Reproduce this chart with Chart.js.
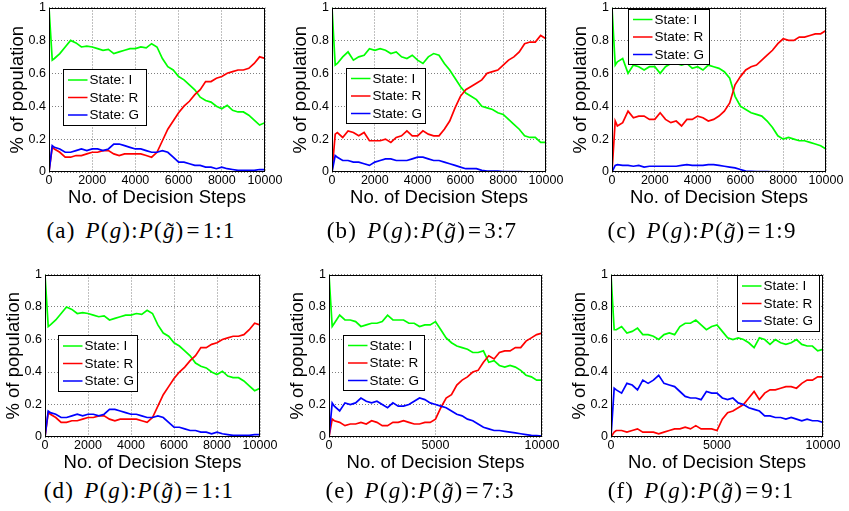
<!DOCTYPE html>
<html><head><meta charset="utf-8">
<script src="https://cdn.jsdelivr.net/npm/chart.js@4/dist/chart.umd.min.js"></script>
<style>
html,body{margin:0;padding:0;background:#fff;}
body{width:849px;height:511px;position:relative;overflow:hidden;}
canvas{position:absolute;}
.cap{position:absolute;width:300px;text-align:center;font-family:"Liberation Serif","Times New Roman",serif;font-size:23px;line-height:26px;color:#000;white-space:nowrap;letter-spacing:1.2px;}
.cap i{font-style:italic;}
.gap{display:inline-block;width:10px;}
.gt{position:relative;display:inline-block;}
.tl{position:absolute;left:0.13em;top:0.04em;font-style:normal;}
.eq{margin:0 2px;}
</style></head><body>
<script>
// ---- data ----
const steps = [0,150,250,500,750,1000,1250,1500,1750,2000,2250,2500,2750,3000,3250,3500,3750,4000,4250,4500,4750,5000,5250,5500,5750,6000,6250,6500,6750,7000,7250,7500,7750,8000,8250,8500,8750,9000,9250,9500,9750,10000];
const xTicksA = [0,2000,4000,6000,8000,10000];
const xTicksB = [0,5000,10000];
const yTicks = [0,0.2,0.4,0.6,0.8,1];
const yTickLabels = ['0','0.2','0.4','0.6','0.8','1'];
const seriesNames = ['State: I','State: R','State: G'];
const captionLetters = ['a','b','c','d','e','f'];
const captionRatios = ['1:1','3:7','1:9','1:1','7:3','9:1'];
const xTitle = 'No. of Decision Steps';
const yTitle = '% of population';

const aI = [1.0,0.68,0.69,0.72,0.76,0.80,0.785,0.76,0.765,0.76,0.75,0.74,0.745,0.72,0.73,0.74,0.75,0.75,0.76,0.755,0.78,0.76,0.69,0.64,0.62,0.58,0.56,0.53,0.50,0.455,0.435,0.425,0.40,0.385,0.405,0.375,0.365,0.365,0.345,0.315,0.285,0.30];
const aR = [0,0.15,0.14,0.12,0.09,0.09,0.10,0.10,0.11,0.12,0.12,0.13,0.13,0.11,0.10,0.11,0.11,0.11,0.11,0.10,0.09,0.12,0.19,0.26,0.31,0.36,0.40,0.43,0.47,0.50,0.55,0.55,0.57,0.58,0.60,0.61,0.62,0.62,0.63,0.66,0.70,0.69];
const aG = [0,0.16,0.15,0.14,0.12,0.12,0.13,0.14,0.13,0.14,0.14,0.13,0.14,0.17,0.17,0.16,0.15,0.14,0.14,0.13,0.12,0.12,0.13,0.12,0.09,0.06,0.06,0.05,0.04,0.04,0.03,0.03,0.02,0.03,0.02,0.015,0.01,0.01,0.01,0.01,0.015,0.015];

const bI = [1.0,0.65,0.66,0.70,0.73,0.68,0.70,0.71,0.75,0.74,0.75,0.74,0.72,0.73,0.70,0.69,0.71,0.68,0.66,0.70,0.72,0.71,0.66,0.62,0.57,0.52,0.48,0.46,0.44,0.40,0.39,0.38,0.36,0.35,0.32,0.29,0.26,0.22,0.21,0.21,0.18,0.18];
const bR = [0,0.23,0.24,0.21,0.25,0.24,0.22,0.24,0.19,0.19,0.19,0.20,0.18,0.21,0.22,0.25,0.22,0.22,0.25,0.23,0.22,0.22,0.26,0.31,0.39,0.46,0.50,0.52,0.54,0.56,0.60,0.61,0.62,0.65,0.68,0.70,0.73,0.78,0.79,0.79,0.83,0.81];
const bG = [0,0.10,0.09,0.07,0.07,0.06,0.06,0.05,0.04,0.06,0.07,0.08,0.08,0.07,0.07,0.07,0.08,0.09,0.09,0.08,0.07,0.07,0.06,0.05,0.04,0.03,0.02,0.02,0.02,0.01,0.005,0.005,0.005,0.003,0.002,0.002,0.002,0.001,0.001,0.001,0.001,0.001];

const cI = [1.0,0.65,0.67,0.69,0.60,0.65,0.64,0.62,0.64,0.64,0.60,0.64,0.66,0.66,0.65,0.66,0.63,0.64,0.62,0.65,0.64,0.63,0.61,0.57,0.46,0.40,0.38,0.36,0.35,0.34,0.31,0.27,0.22,0.20,0.21,0.20,0.19,0.19,0.18,0.17,0.16,0.14];
const cR = [0,0.31,0.28,0.30,0.37,0.33,0.34,0.34,0.32,0.32,0.36,0.32,0.30,0.31,0.28,0.32,0.32,0.34,0.33,0.31,0.32,0.34,0.37,0.42,0.53,0.58,0.62,0.64,0.65,0.68,0.71,0.74,0.78,0.81,0.80,0.80,0.82,0.82,0.83,0.84,0.84,0.86];
const cG = [0,0.04,0.045,0.04,0.04,0.035,0.04,0.03,0.035,0.035,0.035,0.035,0.035,0.035,0.04,0.045,0.04,0.04,0.04,0.045,0.045,0.04,0.035,0.03,0.025,0.015,0.005,0.004,0.003,0.002,0.002,0.001,0.001,0.001,0.001,0.001,0.001,0.001,0.001,0.001,0.001,0.001];

const dI = aI.slice();
const dR = aR.slice();
const dG = aG.slice();

const eI = [1.0,0.68,0.70,0.75,0.72,0.72,0.71,0.68,0.69,0.70,0.70,0.71,0.75,0.72,0.72,0.72,0.70,0.70,0.68,0.69,0.69,0.71,0.66,0.61,0.58,0.56,0.55,0.54,0.52,0.52,0.53,0.46,0.47,0.44,0.43,0.44,0.43,0.41,0.38,0.37,0.35,0.35];
const eR = [0,0.11,0.10,0.09,0.07,0.08,0.08,0.09,0.08,0.10,0.09,0.07,0.07,0.09,0.09,0.10,0.09,0.08,0.08,0.09,0.09,0.11,0.18,0.24,0.26,0.32,0.35,0.37,0.40,0.41,0.46,0.50,0.48,0.52,0.53,0.53,0.55,0.55,0.59,0.61,0.63,0.64];
const eG = [0,0.21,0.19,0.16,0.21,0.20,0.21,0.24,0.22,0.21,0.22,0.20,0.18,0.21,0.19,0.19,0.20,0.22,0.24,0.23,0.21,0.20,0.19,0.18,0.16,0.14,0.13,0.11,0.10,0.08,0.06,0.05,0.04,0.04,0.035,0.03,0.025,0.02,0.015,0.01,0.008,0.005];

const fI = [1.0,0.66,0.66,0.68,0.64,0.65,0.67,0.63,0.63,0.62,0.60,0.63,0.64,0.63,0.68,0.70,0.70,0.72,0.69,0.66,0.68,0.69,0.65,0.61,0.60,0.61,0.60,0.58,0.55,0.61,0.60,0.57,0.60,0.58,0.57,0.58,0.60,0.57,0.56,0.56,0.53,0.54];
const fR = [0,0.03,0.04,0.04,0.03,0.04,0.05,0.03,0.03,0.03,0.02,0.03,0.04,0.05,0.05,0.06,0.05,0.07,0.05,0.05,0.05,0.04,0.11,0.15,0.16,0.18,0.20,0.24,0.28,0.23,0.27,0.29,0.29,0.30,0.31,0.31,0.30,0.33,0.35,0.35,0.37,0.37];
const fG = [0,0.30,0.29,0.27,0.33,0.32,0.29,0.35,0.33,0.35,0.38,0.33,0.32,0.31,0.28,0.25,0.24,0.24,0.23,0.28,0.27,0.27,0.24,0.23,0.24,0.21,0.20,0.18,0.17,0.16,0.13,0.13,0.12,0.12,0.11,0.12,0.11,0.10,0.11,0.10,0.10,0.09];

// ---- layout (positions / sizes only) ----
const panels = [
  {s:[aI,aR,aG], xt:xTicksA, plot:[49,7,265,172],  leg:{x:14,y:61,w:83,h:56}, cap:[141,238]},
  {s:[bI,bR,bG], xt:xTicksA, plot:[332,7,546,172], leg:{x:14,y:60,w:79,h:55}, cap:[422,238]},
  {s:[cI,cR,cG], xt:xTicksA, plot:[612,7,826,172], leg:{x:16,y:1,w:81,h:55},  cap:[702,238]},
  {s:[dI,dR,dG], xt:xTicksA, plot:[45,274,260,437], leg:{x:13,y:60,w:79,h:56}, cap:[139,498]},
  {s:[eI,eR,eG], xt:xTicksB, plot:[329,274,542,437],leg:{x:14,y:60,w:81,h:55}, cap:[420,498]},
  {s:[fI,fR,fG], xt:xTicksB, plot:[611,274,823,437],leg:{x:-86,y:0,w:82,h:56,fromRight:true}, cap:[701,498]}
];
const colors = ['#00ff00','#ff0000','#0000ff'];
const YW = 48, TOPPAD = 10, RIGHTPAD = 22, XH = 40;

const frameLegend = {
  id:'frameLegend',
  afterDatasetsDraw(chart, args, opts){
    const {ctx, chartArea:ca} = chart;
    ctx.save();
    const L = Math.round(ca.left), T = Math.round(ca.top), R = Math.round(ca.right), B = Math.round(ca.bottom);
    ctx.strokeStyle = '#000'; ctx.lineWidth = 1;
    ctx.strokeRect(L+0.5, T+0.5, R-L-1, B-T-1);
    const lg = opts.legend;
    const bx = Math.round((lg.fromRight ? ca.right : ca.left) + lg.x) + 0.5;
    const by = Math.round(ca.top + lg.y) + 0.5;
    ctx.fillStyle = '#fff';
    ctx.fillRect(bx, by, lg.w, lg.h);
    ctx.strokeStyle = '#000'; ctx.lineWidth = 1;
    ctx.strokeRect(bx, by, lg.w, lg.h);
    ctx.font = '13.5px "Liberation Sans", Arial, sans-serif';
    ctx.textBaseline = 'middle'; ctx.textAlign = 'left';
    chart.data.datasets.forEach((ds, i) => {
      const cy = by + lg.h/2 + (i-1)*17.5;
      ctx.strokeStyle = ds.borderColor; ctx.lineWidth = 1.5;
      ctx.beginPath(); ctx.moveTo(bx+4.5, cy); ctx.lineTo(bx+24, cy); ctx.stroke();
      ctx.fillStyle = '#000';
      ctx.fillText(ds.label, bx+26, cy+0.5);
    });
    ctx.restore();
  }
};

const gridStyle = {color:'#808080', lineWidth:1, drawTicks:false};

panels.forEach((p, idx) => {
  const [pl, pt, pr, pb] = p.plot;
  const w = (pr-pl) + YW + RIGHTPAD, h = (pb-pt) + TOPPAD + XH;
  const cv = document.createElement('canvas');
  cv.width = w; cv.height = h;
  cv.style.left = (pl - YW) + 'px'; cv.style.top = (pt - TOPPAD) + 'px';
  cv.style.width = w + 'px'; cv.style.height = h + 'px';
  document.body.appendChild(cv);

  const datasets = p.s.map((vals, k) => ({
    label: seriesNames[k],
    data: steps.map((x, j) => ({x: x, y: vals[j]})),
    borderColor: colors[k],
    backgroundColor: colors[k],
    borderWidth: 1.7,
    pointRadius: 0,
    tension: 0,
    fill: false,
    order: 3 - k
  }));
  const xt = p.xt;
  new Chart(cv, {
    type: 'line',
    data: {datasets},
    options: {
      responsive: false, animation: false, devicePixelRatio: 1, events: [],
      layout: {padding: {top: TOPPAD, right: RIGHTPAD, bottom: 0, left: 0}},
      plugins: {legend: {display: false}, tooltip: {enabled: false}, frameLegend: {legend: p.leg}},
      scales: {
        x: {
          type: 'linear', min: 0, max: 10000,
          afterBuildTicks: s => { s.ticks = xt.map(v => ({value: v})); },
          afterFit: s => { s.height = XH; },
          ticks: {autoSkip: false, maxRotation: 0, minRotation: 0, padding: 1.5, color: '#000',
                  font: {family: '"Liberation Sans", Arial, sans-serif', size: 12.5},
                  callback: v => String(v)},
          grid: gridStyle,
          border: {display: false, dash: [1,2]},
          title: {display: true, text: xTitle, color: '#000', padding: {top: 0, bottom: 2.5},
                  font: {family: '"Liberation Sans", Arial, sans-serif', size: 18.5}}
        },
        y: {
          type: 'linear', min: 0, max: 1,
          afterBuildTicks: s => { s.ticks = yTicks.map(v => ({value: v})); },
          afterFit: s => { s.width = YW; },
          ticks: {padding: 3, color: '#000',
                  font: {family: '"Liberation Sans", Arial, sans-serif', size: 12.5},
                  callback: (v) => { const i = yTicks.indexOf(v); return i >= 0 ? yTickLabels[i] : ''; }},
          grid: gridStyle,
          border: {display: false, dash: [1,2]},
          title: {display: true, text: yTitle, color: '#000', padding: {top: 6, bottom: 0},
                  font: {family: '"Liberation Sans", Arial, sans-serif', size: 18.5}}
        }
      }
    },
    plugins: [frameLegend]
  });

  const cap = document.createElement('div');
  cap.className = 'cap';
  cap.style.left = (p.cap[0] - 150) + 'px';
  cap.style.top = (p.cap[1] - 20.4) + 'px';
  cap.innerHTML = '(' + captionLetters[idx] + ')<span class="gap"></span><i>P</i>(<i>g</i>):<i>P</i>(<span class="gt"><i>g</i><span class="tl">˜</span></span>)<span class="eq">=</span>' + captionRatios[idx];
  document.body.appendChild(cap);
});
</script>
</body></html>
